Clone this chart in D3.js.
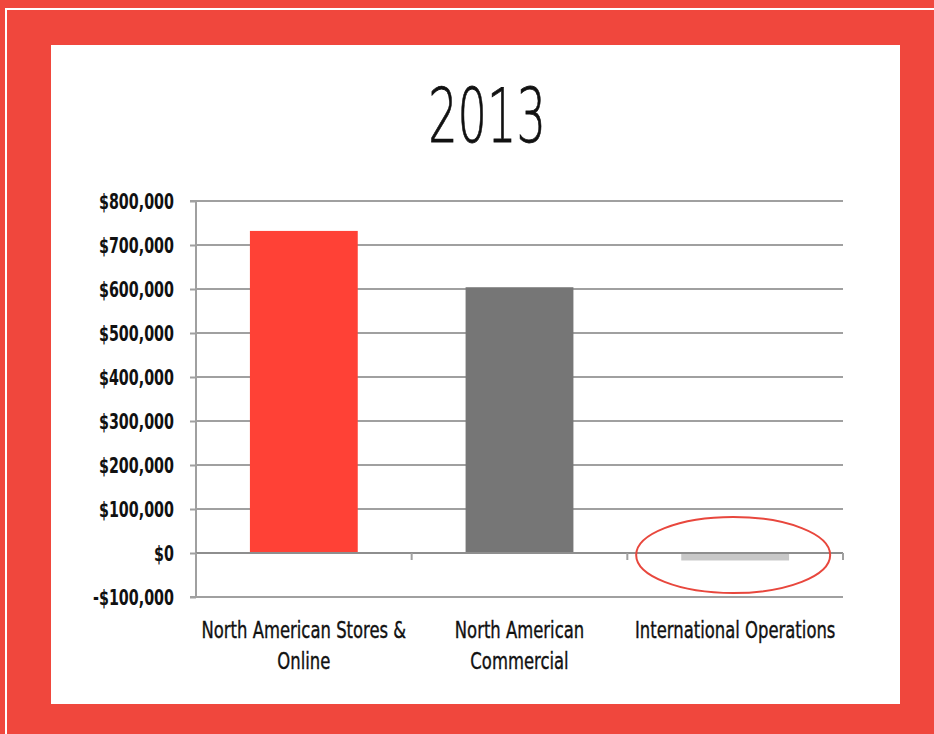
<!DOCTYPE html>
<html>
<head>
<meta charset="utf-8">
<script src="https://cdn.jsdelivr.net/npm/d3@7/dist/d3.min.js"></script>
<style>
  html, body { margin: 0; padding: 0; background: #F0473D; }
  svg { display: block; }
  text { font-family: "DejaVu Sans", sans-serif; }
</style>
</head>
<body>
<svg id="chart" width="934" height="734"></svg>
<script>
// Segment operating income, 2013
const title = "2013";
const categories = ["North American Stores & Online", "North American Commercial", "International Operations"];
const categoryLines = [["North American Stores &", "Online"], ["North American", "Commercial"], ["International Operations"]];
const values = [732000, 604000, -17000];
const barColors = ["#FF4136", "#767676", "#C8C8C8"];
const yTicks = [-100000, 0, 100000, 200000, 300000, 400000, 500000, 600000, 700000, 800000];
const highlighted = "International Operations";

const svg = d3.select("#chart");
const W = 934, H = 734;

// Squeeze a text element horizontally about its anchor x to get a condensed face
function condense(sel, k) {
  sel.each(function() {
    const t = d3.select(this);
    const ax = +t.attr("x") || 0;
    t.attr("transform", (t.attr("transform") || "") + ` translate(${ax},0) scale(${k},1) translate(${-ax},0)`);
  });
}

// Frame: red field, thin white rule, white card
svg.append("rect").attr("width", W).attr("height", H).attr("fill", "#F0473D");
svg.append("path")
  .attr("d", `M6,${H} L6,9 L${W},9`)
  .attr("fill", "none").attr("stroke", "#fff").attr("stroke-width", 2);
svg.append("rect").attr("x", 51).attr("y", 45).attr("width", 849).attr("height", 659).attr("fill", "#fff");

// Title
svg.append("text")
  .attr("x", 487).attr("y", 142)
  .attr("text-anchor", "middle")
  .attr("font-size", 74)
  .attr("font-weight", 200)
  .attr("fill", "#111")
  .attr("stroke", "#111").attr("stroke-width", 0.8)
  .text(title)
  .call(condense, 0.625);

const left = 196, right = 843;
const x = d3.scaleBand().domain(categories).range([left, right]).paddingInner(0.5).paddingOuter(0.25);
const y = d3.scaleLinear().domain([-100000, 800000]).range([597, 201]);

const gridColor = "#A0A0A0";

// Horizontal gridlines
svg.append("g").selectAll("line").data(yTicks).join("line")
  .attr("x1", left).attr("x2", right)
  .attr("y1", d => y(d)).attr("y2", d => y(d))
  .attr("stroke", gridColor).attr("stroke-width", 2);

// Y axis
const fmt = d => (d < 0 ? "-$" : "$") + d3.format(",")(Math.abs(d));
const yAxis = d3.axisLeft(y).tickValues(yTicks).tickFormat(fmt).tickSize(6).tickPadding(16);
const gy = svg.append("g").attr("transform", `translate(${left},0)`).call(yAxis);
gy.select(".domain").attr("stroke", gridColor).attr("stroke-width", 2).attr("d", `M-6,${y(800000)}H0V${y(-100000)}H-6`);
gy.selectAll(".tick line").attr("stroke", gridColor).attr("stroke-width", 2);
gy.selectAll(".tick text")
  .attr("fill", "#111")
  .attr("font-size", 22)
  .attr("font-weight", "bold")
  .attr("font-family", "'DejaVu Sans', sans-serif")
  .attr("dy", "0.36em")
  .call(condense, 0.65);

// Bars
svg.append("g").selectAll("rect").data(categories).join("rect")
  .attr("x", d => x(d))
  .attr("width", x.bandwidth())
  .attr("y", (d, i) => y(Math.max(0, values[i])))
  .attr("height", (d, i) => Math.abs(y(values[i]) - y(0)))
  .attr("fill", (d, i) => barColors[i]);

// Category axis along zero
const step = x.step();
const boundaries = d3.range(categories.length + 1).map(i => left + i * step);
svg.append("line").attr("x1", left).attr("x2", right).attr("y1", y(0)).attr("y2", y(0))
  .attr("stroke", "#8E8E8E").attr("stroke-width", 2);
svg.append("g").selectAll("line").data(boundaries).join("line")
  .attr("x1", d => d).attr("x2", d => d)
  .attr("y1", y(0)).attr("y2", y(0) + 7)
  .attr("stroke", gridColor).attr("stroke-width", 2);

// Category labels
const labels = svg.append("g").selectAll("text").data(categories).join("text")
  .attr("text-anchor", "middle")
  .attr("font-size", 23)
  .attr("fill", "#111")
  .attr("stroke", "#111").attr("stroke-width", 0.4)
  .attr("transform", d => `translate(${x(d) + x.bandwidth() / 2},638) scale(0.715,1)`);
labels.each(function(d, i) {
  d3.select(this).selectAll("tspan").data(categoryLines[i]).join("tspan")
    .attr("x", 0).attr("dy", (t, j) => j === 0 ? 0 : 31).text(t => t);
});

// Highlight ring around the negative segment
const hx = x(highlighted) + x.bandwidth() / 2;
svg.append("ellipse")
  .attr("cx", hx - 2).attr("cy", y(0) + 2)
  .attr("rx", 97).attr("ry", 38)
  .attr("fill", "none").attr("stroke", "#E8473D").attr("stroke-width", 2);
</script>
</body>
</html>
